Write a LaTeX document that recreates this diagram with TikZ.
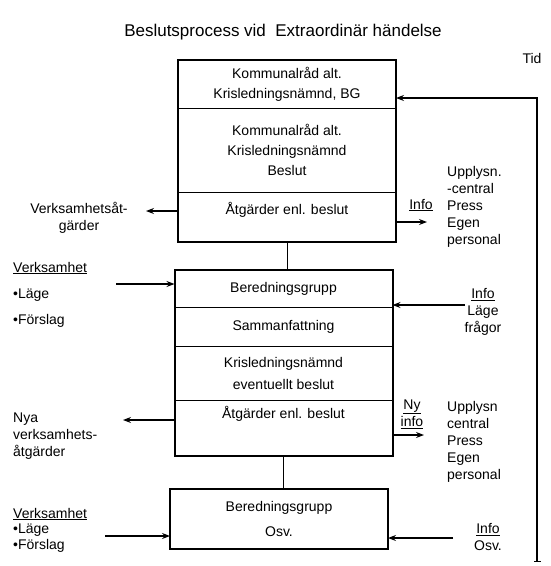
\documentclass[tikz,border=0pt]{standalone}
\usepackage{fontspec}
\setmainfont{Liberation Sans}
\usetikzlibrary{arrows.meta}

\begin{document}
\begin{tikzpicture}[x=1pt,y=-1pt,
    cell/.style={draw,line width=1pt,minimum width=217pt,inner sep=0pt,align=center,
      font=\fontsize{14}{20}\selectfont},
    txt/.style={inner sep=0pt,font=\fontsize{14}{17}\selectfont},
    frame/.style={line width=2pt},
    arr/.style={line width=1.1pt,-{Stealth[length=8pt,width=6pt]}}]
    \useasboundingbox (0,0) rectangle (550,566);
    \node[txt,font=\fontsize{17}{20}\selectfont] (title) at (283,32) {Beslutsprocess vid\ \ Extraordinär händelse};
    \node[txt] (tid) at (532,58) {Tid};

    \node[cell,minimum height=48pt] (k1) at (287,84) {Kommunalråd alt.\\Krisledningsnämnd, BG};
    \node[cell,minimum height=84pt] (k2) at (287,150) {Kommunalråd alt.\\Krisledningsnämnd\\Beslut};
    \node[cell,minimum height=49pt] (k3) at (287,216.5) {};
    \node[txt] (k3t) at (287,210) {Åtgärder enl. beslut};
    \draw[frame] (k1.north west) rectangle (k3.south east);

    \node[cell,minimum height=37pt] (m1) at (283.5,288.5) {Beredningsgrupp};
    \node[cell,minimum height=39pt] (m2) at (283.5,326.5) {Sammanfattning};
    \node[cell,minimum height=54pt] (m3) at (283.5,373) {Krisledningsnämnd\\[2pt]eventuellt beslut};
    \node[cell,minimum height=55pt] (m4) at (283.5,427.5) {};
    \node[txt] (m4t) at (283.5,414) {Åtgärder enl. beslut};
    \draw[frame] (m1.north west) rectangle (m4.south east);

    \node[cell,minimum height=59pt] (b1) at (279,518.5) {Beredningsgrupp\\[5pt]Osv.};
    \draw[frame] (b1.north west) rectangle (b1.south east);

    \draw[line width=1pt] (k3.south) -- (k3.south |- m1.north);
    \draw[line width=1pt] (m4.south) -- (m4.south |- b1.north);

    \node[txt,align=center] (vatg) at (79,218) {Verksamhetsåt-\\gärder};
    \coordinate (vatgE) at (146,211);
    \draw[arr] (k3.west |- vatgE) -- (vatgE);

    \node[txt,anchor=west] (verk1) at (13,268) {\underline{Verksamhet}};
    \node[txt,anchor=west] (lage1) at (13,295) {•Läge};
    \node[txt,anchor=west] (fors1) at (13,321) {•Förslag};
    \coordinate (verk1E) at (116,284);
    \draw[arr] (verk1E) -- (m1.west |- verk1E);

    \node[txt,anchor=north west,align=left] (nya) at (13,413) {Nya\\verksamhets-\\åtgärder};
    \coordinate (nyaE) at (123,420);
    \draw[arr] (m4.west |- nyaE) -- (nyaE);

    \node[txt,anchor=west] (verk2) at (13,514) {\underline{Verksamhet}};
    \node[txt,anchor=west] (lage2) at (13,530) {•Läge};
    \node[txt,anchor=west] (fors2) at (13,546) {•Förslag};
    \coordinate (verk2E) at (105,536);
    \draw[arr] (verk2E) -- (b1.west |- verk2E);

    \node[txt] (info1) at (421,205) {\underline{Info}};
    \coordinate (info1W) at (427,222);
    \draw[arr] (k3.east |- info1W) -- (info1W);
    \node[txt,anchor=north west,align=left] (upp1) at (447,166) {Upplysn.\\-central\\Press\\Egen\\personal};

    \node[txt,align=center] (info2) at (483,312) {\underline{Info}\\Läge\\frågor};
    \coordinate (info2W) at (465,305);
    \draw[arr] (info2W) -- (m1.east |- info2W);

    \node[txt,align=center] (nyinfo) at (412,414) {\underline{Ny}\\\underline{info}};
    \coordinate (nyinfoW) at (424,435);
    \draw[arr] (m4.east |- nyinfoW) -- (nyinfoW);
    \node[txt,anchor=north west,align=left] (upp2) at (447,401) {Upplysn\\central\\Press\\Egen\\personal};

    \node[txt,align=center] (info3) at (488,537) {\underline{Info}\\Osv.};
    \coordinate (info3W) at (453,538);
    \draw[arr] (info3W) -- (b1.east |- info3W);

    \coordinate (tidtop) at (537,98);
    \coordinate (tidbot) at (537,562);
    \draw[line width=1.1pt,{Bar[width=7pt]}-{Stealth[length=8pt,width=6pt]}] (tidbot) -- (tidtop) -- (k1.east |- tidtop);
\end{tikzpicture}
\end{document}
